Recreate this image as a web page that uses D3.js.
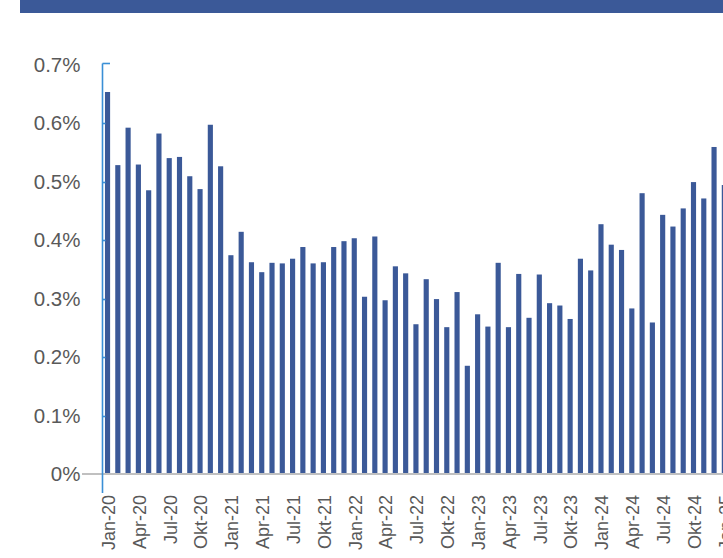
<!DOCTYPE html>
<html>
<head>
<meta charset="utf-8">
<script src="https://cdn.jsdelivr.net/npm/d3@7"></script>
<style>
  html, body { margin: 0; padding: 0; background: #fff; }
  svg { display: block; font-family: "Liberation Sans", Arial, sans-serif; }
</style>
</head>
<body>
<div id="chart"></div>
<script>
const monthNames = ["Jan","Feb","Mar","Apr","Mai","Jun","Jul","Aug","Sep","Okt","Nov","Dez"];
const years = ["20","21","22","23","24","25"];
const categories = [];
years.forEach(y => monthNames.forEach(m => categories.push(m + "-" + y)));
categories.splice(61); // Jan-20 .. Jan-25

// monthly values in percent
const values = [
  0.653, 0.528, 0.592, 0.529, 0.485, 0.582, 0.540, 0.542, 0.509, 0.487, 0.597, 0.526,
  0.374, 0.414, 0.362, 0.345, 0.361, 0.360, 0.368, 0.388, 0.360, 0.362, 0.388, 0.398,
  0.403, 0.303, 0.406, 0.297, 0.355, 0.343, 0.256, 0.333, 0.299, 0.251, 0.311, 0.185,
  0.273, 0.252, 0.361, 0.251, 0.342, 0.267, 0.341, 0.292, 0.288, 0.265, 0.368, 0.348,
  0.427, 0.392, 0.383, 0.283, 0.480, 0.259, 0.443, 0.423, 0.454, 0.499, 0.471, 0.559,
  0.494
];

const yTicks = [0, 0.1, 0.2, 0.3, 0.4, 0.5, 0.6, 0.7];
const yTickLabels = ["0%", "0.1%", "0.2%", "0.3%", "0.4%", "0.5%", "0.6%", "0.7%"];
const xTickLabels = categories.filter(c => /^(Jan|Apr|Jul|Okt)-/.test(c));

const W = 723, H = 558;
const svg = d3.select("#chart").append("svg").attr("width", W).attr("height", H);

// header band
svg.append("rect").attr("x", 20).attr("y", 0).attr("width", W - 20).attr("height", 13)
  .attr("fill", "#3b5998");

const x = d3.scaleBand().domain(categories).range([102.4, 102.4 + 61 * 10.28])
  .paddingInner(0.5).paddingOuter(0.25);
const y = d3.scaleLinear().domain([0, 0.7]).range([474, 64.5]);

// bars
svg.append("g").selectAll("rect").data(values).join("rect")
  .attr("x", (d, i) => x(categories[i]))
  .attr("width", x.bandwidth())
  .attr("y", d => y(d))
  .attr("height", d => y(0) - y(d))
  .attr("fill", "#3b5998");

// x axis line (grey)
svg.append("line").attr("x1", 82).attr("x2", W).attr("y1", y(0)).attr("y2", y(0))
  .attr("stroke", "#c0c0c0").attr("stroke-width", 2);

// y axis (blue)
const axisColor = "#3a8fd6";
svg.append("line").attr("x1", 102.5).attr("x2", 102.5).attr("y1", 63.5).attr("y2", 493)
  .attr("stroke", axisColor).attr("stroke-width", 1.6);
svg.append("g").selectAll("line").data(yTicks.slice(1)).join("line")
  .attr("x1", 102.5)
  .attr("x2", d => d === 0.7 ? 110 : 105.5)
  .attr("y1", d => d === 0.7 ? 63.5 : Math.round(y(d)) + 0.5)
  .attr("y2", d => d === 0.7 ? 63.5 : Math.round(y(d)) + 0.5)
  .attr("stroke", axisColor).attr("stroke-width", 1.6);

// y tick labels
svg.append("g").selectAll("text").data(yTicks).join("text")
  .attr("x", 80.5)
  .attr("y", d => y(d))
  .attr("dy", "0.36em")
  .attr("text-anchor", "end")
  .attr("font-size", "20.5px")
  .attr("fill", "#595959")
  .text((d, i) => yTickLabels[i]);

// x tick labels
svg.append("g").selectAll("text").data(xTickLabels).join("text")
  .attr("transform", d => `translate(${x(d) + x.bandwidth() / 2 + 1},495) rotate(-90)`)
  .attr("dy", "0.35em")
  .attr("text-anchor", "end")
  .attr("font-size", "18px")
  .attr("fill", "#595959")
  .text(d => d);
</script>
</body>
</html>
